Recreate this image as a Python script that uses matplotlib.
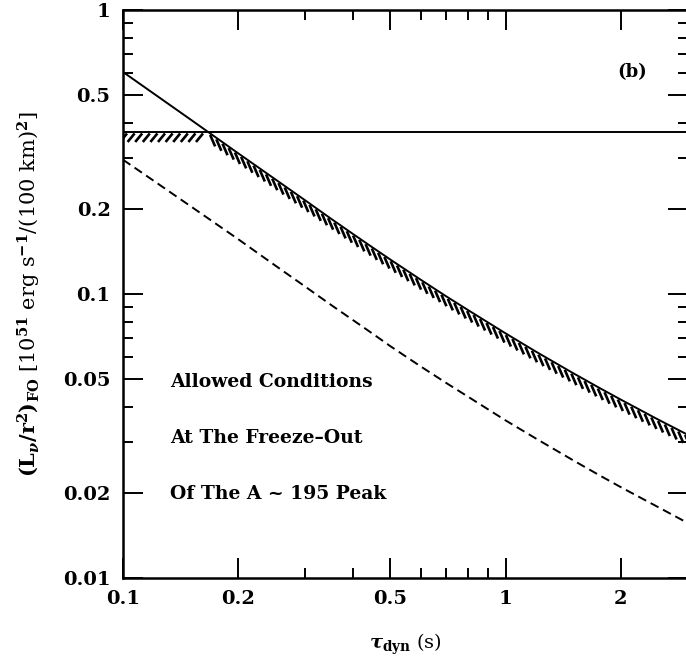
import numpy as np
import matplotlib
matplotlib.use('Agg')
import matplotlib.pyplot as plt
from matplotlib.collections import LineCollection
from matplotlib.ticker import FixedLocator, FixedFormatter, NullFormatter

# values
tau = [0.1, 0.12, 0.15, 0.2, 0.25, 0.3, 0.35, 0.4, 0.45, 0.5, 0.6, 0.7, 0.8,
       1.0, 1.2, 1.5, 1.75, 2.0, 2.5, 3.0]
lum_solid = [0.605, 0.509, 0.412, 0.313, 0.2535, 0.2133, 0.184, 0.1624, 0.1456, 0.1322, 0.1123,
             0.0981, 0.0876, 0.0727, 0.0627, 0.0527, 0.0469, 0.0425, 0.0362, 0.0319]
lum_dashed = [0.297, 0.251, 0.204, 0.156, 0.126, 0.106, 0.0915, 0.0808, 0.0724, 0.0655, 0.0556,
              0.0486, 0.0434, 0.0359, 0.0310, 0.0260, 0.0231, 0.0209, 0.0178, 0.0156]
lum_limit = 0.372

x_major = [0.1, 0.2, 0.5, 1, 2]
x_major_labels = ['0.1', '0.2', '0.5', '1', '2']
x_minor = [0.3, 0.4, 0.6, 0.7, 0.8, 0.9, 3]
y_major = [0.01, 0.02, 0.05, 0.1, 0.2, 0.5, 1]
y_major_labels = ['0.01', '0.02', '0.05', '0.1', '0.2', '0.5', '1']
y_minor = [0.03, 0.04, 0.06, 0.07, 0.08, 0.09, 0.3, 0.4, 0.6, 0.7, 0.8, 0.9]

plt.rcParams['font.family'] = 'DejaVu Serif'
plt.rcParams['font.weight'] = 'bold'
plt.rcParams['mathtext.fontset'] = 'dejavuserif'

W, H = 6.86, 6.67
fig = plt.figure(figsize=(W, H), dpi=100)
ax = fig.add_axes([123 / 686, 89 / 667, 565 / 686, 568 / 667])
ax.set_xscale('log')
ax.set_yscale('log')
xlim = (0.1, 3)
ylim = (0.01, 1)
ax.set_xlim(*xlim)
ax.set_ylim(*ylim)

ax.plot(tau, lum_solid, color='black', lw=1.4)
ax.plot(tau, lum_dashed, color='black', lw=1.4, linestyle=(0, (4.6, 2.6)))
ax.axhline(lum_limit, color='black', lw=1.4)

# hatch strokes under the boundary min(curve, limit), laid out in pixels
ppx = 565 / np.log10(xlim[1] / xlim[0])
ppy = 568 / np.log10(ylim[1] / ylim[0])
lx = np.log10(tau)
ll = np.log10(lum_limit)
ls = np.log10(lum_solid)
i = np.argmax(ls < ll)
f = (ls[i - 1] - ll) / (ls[i - 1] - ls[i])
lx_cross = lx[i - 1] + f * (lx[i] - lx[i - 1])
bx = np.concatenate([[lx[0], lx_cross], lx[i:]])
by = np.concatenate([[ll, ll], ls[i:]])
px = (bx - np.log10(xlim[0])) * ppx
py = (by - np.log10(ylim[0])) * ppy
seg = np.hypot(np.diff(px), np.diff(py))
s = np.concatenate([[0], np.cumsum(seg)])
s_new = np.arange(4, s[-1], 7.6)
sx = np.interp(s_new, s, px)
sy = np.interp(s_new, s, py)
flat = s_new < s[1]
dx = np.where(flat, -7.0, 5.0)
dy = np.where(flat, -10.0, -13.0)
x0 = 10 ** (sx / ppx + np.log10(xlim[0]))
y0 = 10 ** ((sy - 1.5) / ppy + np.log10(ylim[0]))
x1 = 10 ** ((sx + dx) / ppx + np.log10(xlim[0]))
y1 = 10 ** ((sy + dy) / ppy + np.log10(ylim[0]))
strokes = [[(a, b), (c, d)] for a, b, c, d in zip(x0, y0, x1, y1)]
ax.add_collection(LineCollection(strokes, colors='black', linewidths=1.9))

ax.xaxis.set_major_locator(FixedLocator(x_major))
ax.xaxis.set_major_formatter(FixedFormatter(x_major_labels))
ax.xaxis.set_minor_locator(FixedLocator(x_minor))
ax.xaxis.set_minor_formatter(NullFormatter())
ax.yaxis.set_major_locator(FixedLocator(y_major))
ax.yaxis.set_major_formatter(FixedFormatter(y_major_labels))
ax.yaxis.set_minor_locator(FixedLocator(y_minor))
ax.yaxis.set_minor_formatter(NullFormatter())

ax.tick_params(which='both', direction='in', top=True, right=True, width=1.4, labelsize=14)
ax.tick_params(which='major', length=14.4, pad=9)
ax.tick_params(which='minor', length=7.2)
for sp in ax.spines.values():
    sp.set_linewidth(1.8)

ax.set_xlabel(r'$\tau_{\mathbf{dyn}}$ (s)', fontsize=14, labelpad=17)
ax.set_ylabel(r'$(\mathbf{L}_\nu/\mathbf{r}^2)_{\mathbf{FO}}$ [10$^{\mathbf{51}}$ erg s$^{\mathbf{-1}}$/(100 km)$^{\mathbf{2}}$]',
              fontsize=15, labelpad=14)

ax.text((632 - 123) / 565, 1 - 62 / 568, '(b)', transform=ax.transAxes,
        ha='center', va='center', fontsize=13, fontweight='bold')
notes = ['Allowed Conditions', 'At The Freeze\u2013Out', 'Of The A ~ 195 Peak']
for k, t in enumerate(notes):
    ax.text((170 - 123) / 565, (578 - 387 - 56 * k) / 568, t, transform=ax.transAxes,
            ha='left', va='baseline', fontsize=13.5, fontweight='bold')

fig.savefig('out.png', dpi=100)
